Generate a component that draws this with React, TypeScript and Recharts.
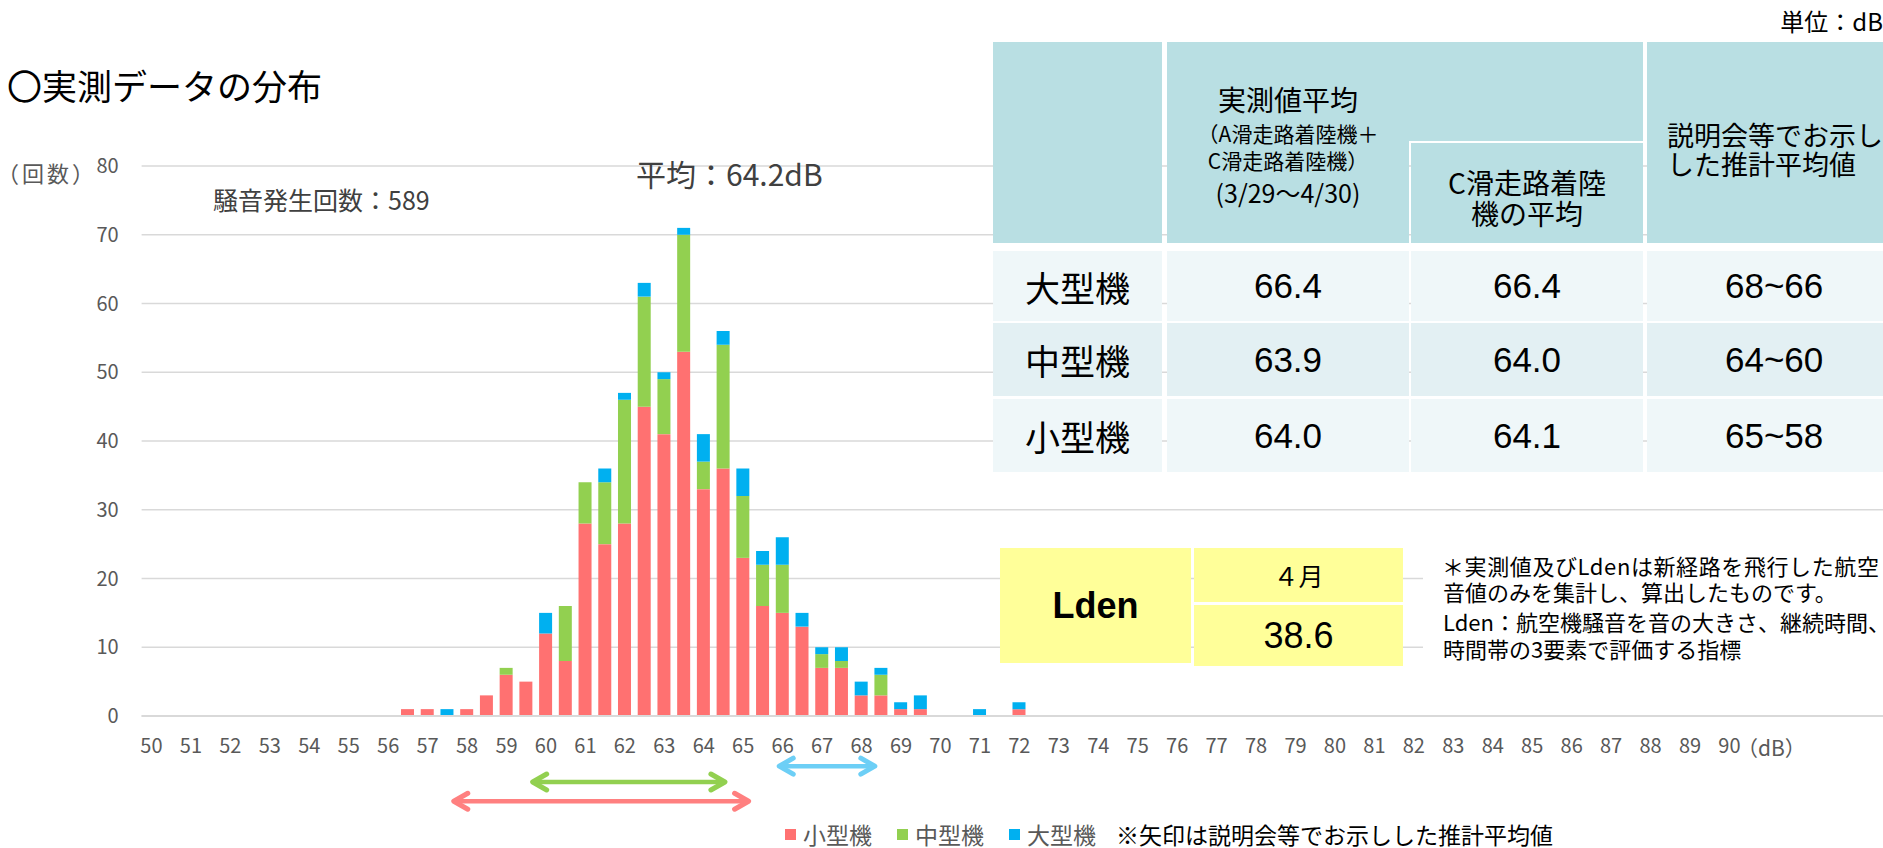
import React from 'react';
import { ComposedChart, Bar, XAxis, YAxis, CartesianGrid, Legend, ReferenceLine } from 'recharts';

// ---- data ----
const bins = [56.5, 57, 57.5, 58, 58.5, 59, 59.5, 60, 60.5, 61, 61.5, 62, 62.5, 63, 63.5, 64, 64.5, 65, 65.5, 66, 66.5, 67, 67.5, 68, 68.5, 69, 69.5, 70, 70.5, 71, 71.5, 72];
const smallCounts = [1, 1, 0, 1, 3, 6, 5, 12, 8, 28, 25, 28, 45, 41, 53, 33, 36, 23, 16, 15, 13, 7, 7, 3, 3, 1, 1, 0, 0, 0, 0, 1];
const mediumCounts = [0, 0, 0, 0, 0, 1, 0, 0, 8, 6, 9, 18, 16, 8, 17, 4, 18, 9, 6, 7, 0, 2, 1, 0, 3, 0, 0, 0, 0, 0, 0, 0];
const largeCounts = [0, 0, 1, 0, 0, 0, 0, 3, 0, 0, 2, 1, 2, 1, 1, 4, 2, 4, 2, 4, 2, 1, 2, 2, 1, 1, 2, 0, 0, 1, 0, 1];

const seriesNames = ['小型機', '中型機', '大型機'];
const seriesColors = ['#FF7171', '#92D050', '#00B0F0'];

const xTicks = [50, 51, 52, 53, 54, 55, 56, 57, 58, 59, 60, 61, 62, 63, 64, 65, 66, 67, 68, 69, 70, 71, 72, 73, 74, 75, 76, 77, 78, 79, 80, 81, 82, 83, 84, 85, 86, 87, 88, 89, 90];
const yTicks = [0, 10, 20, 30, 40, 50, 60, 70, 80];

// estimated-average arrows (dB range), drawn below the axis
const arrowNames = ['大型機', '中型機', '小型機'];
const arrowFrom = [65.85, 59.6, 57.6];
const arrowTo = [68.4, 64.6, 65.2];
const arrowLevel = [-7.3, -9.6, -12.4];
const arrowColors = ['#6DCFF6', '#92D050', '#FF8080'];

// table
const tableRows = ['大型機', '中型機', '小型機'];
const measuredAvg = ['66.4', '63.9', '64.0'];
const runwayCAvg = ['66.4', '64.0', '64.1'];
const estimatedRange = ['68~66', '64~60', '65~58'];

const ldenMonth = '４月';
const ldenValue = '38.6';

const totalCount = 589;
const meanValue = '64.2';

const data = bins.map((b, i) => ({
  db: b,
  small: smallCounts[i],
  medium: mediumCounts[i],
  large: largeCounts[i],
}));

const CJK = '"Noto Sans CJK JP", "Noto Sans", sans-serif';
const ARIAL = '"Liberation Sans", Arial, sans-serif';
const TEAL = '#b9dfe3';
const ROW_BG = ['#eff7f9', '#e3f0f3', '#eff7f9'];

const Arrow = (p: any) => {
  const { x1, y1, x2, y2, color } = p;
  const h = 14;
  const w = 8;
  const a = x1 + 2.5;
  const b = x2 - 2.5;
  return (
    <g>
      <line x1={a + 2} y1={y1} x2={b - 2} y2={y2} stroke={color} strokeWidth={4.5} />
      <polyline points={`${a + h},${y1 - w} ${a},${y1} ${a + h},${y1 + w}`} fill="none" stroke={color} strokeWidth={5} strokeLinecap="round" strokeLinejoin="round" />
      <polyline points={`${b - h},${y2 - w} ${b},${y2} ${b - h},${y2 + w}`} fill="none" stroke={color} strokeWidth={5} strokeLinecap="round" strokeLinejoin="round" />
    </g>
  );
};

const Box = (p: { left: number; top: number; width: number; height: number; bg: string; children?: any; style?: any }) => (
  <div
    style={{
      position: 'absolute',
      left: p.left,
      top: p.top,
      width: p.width,
      height: p.height,
      background: p.bg,
      display: 'flex',
      alignItems: 'center',
      justifyContent: 'center',
      ...p.style,
    }}
  >
    {p.children}
  </div>
);

const Line = (p: { x: number; cy: number; size: number; text: string; align?: string; color?: string; font?: string; weight?: number; w?: number; lh?: number; ls?: number }) => {
  const lh = p.lh || Math.round(p.size * 1.15);
  const align = p.align || 'left';
  const w = p.w || 600;
  let left = p.x;
  if (align === 'center') left = p.x - w / 2;
  if (align === 'right') left = p.x - w;
  return (
    <div
      style={{
        position: 'absolute',
        left,
        top: p.cy - lh / 2,
        width: w,
        height: lh,
        lineHeight: `${lh}px`,
        fontSize: p.size,
        textAlign: align as any,
        color: p.color || '#000',
        fontFamily: p.font || CJK,
        fontWeight: p.weight || 400,
        letterSpacing: p.ls || 0,
        whiteSpace: 'nowrap',
      }}
    >
      {p.text}
    </div>
  );
};

const LegendContent = (props: any) => {
  const payload = [...(props.payload || [])].sort(
    (a: any, b: any) => seriesNames.indexOf(a.value) - seriesNames.indexOf(b.value)
  );
  return (
    <div style={{ display: 'flex', alignItems: 'center', height: 22, lineHeight: '22px', fontFamily: CJK, fontSize: 23, whiteSpace: 'nowrap' }}>
      {payload.map((e: any) => (
        <span key={e.value} style={{ display: 'flex', alignItems: 'center', marginRight: 25, color: '#595959' }}>
          <span style={{ display: 'inline-block', width: 11, height: 11, background: e.color, marginRight: 7 }} />
          {e.value}
        </span>
      ))}
      <span style={{ color: '#000', marginLeft: -5 }}>※矢印は説明会等でお示しした推計平均値</span>
    </div>
  );
};

export default function App() {
  const colLeft = [993, 1167, 1411, 1647];
  const colWidth = [169, 242, 232, 254];
  const rowTop = [251, 323, 399];
  const rowH = [70, 73, 73];
  const valueCols = [measuredAvg, runwayCAvg, estimatedRange];

  return (
    <div style={{ position: 'absolute', left: 0, top: 0, width: 1883, height: 848, overflow: 'hidden', background: '#fff', fontFamily: CJK }}>
      <div style={{ position: 'absolute', left: 0, top: 0 }}>
        <ComposedChart width={1900} height={848} data={data} margin={{ top: 166, right: 2.9, left: 81.6, bottom: 102 }}>
          <CartesianGrid vertical={false} stroke="#d9d9d9" strokeWidth={1.5} />
          <XAxis
            type="number"
            dataKey="db"
            domain={[49.75, 94.25]}
            ticks={xTicks}
            interval={0}
            allowDataOverflow
            height={30}
            tickSize={0}
            tickMargin={23}
            tickLine={false}
            axisLine={{ stroke: '#d9d9d9', strokeWidth: 2 }}
            tick={{ fill: '#595959', fontSize: 20, fontFamily: CJK }}
          />
          <YAxis
            width={60}
            domain={[0, 80]}
            ticks={yTicks}
            interval={0}
            tickSize={0}
            tickMargin={23}
            tickLine={false}
            axisLine={false}
            tick={{ fill: '#595959', fontSize: 20, fontFamily: CJK }}
          />
          <Bar dataKey="small" name={seriesNames[0]} stackId="a" fill={seriesColors[0]} barSize={13} isAnimationActive={false} />
          <Bar dataKey="medium" name={seriesNames[1]} stackId="a" fill={seriesColors[1]} barSize={13} isAnimationActive={false} />
          <Bar dataKey="large" name={seriesNames[2]} stackId="a" fill={seriesColors[2]} barSize={13} isAnimationActive={false} />
          {arrowNames.map((n, i) => (
            <ReferenceLine
              key={n}
              segment={[
                { x: arrowFrom[i], y: arrowLevel[i] },
                { x: arrowTo[i], y: arrowLevel[i] },
              ]}
              ifOverflow="visible"
              shape={(p: any) => <Arrow {...p} color={arrowColors[i]} />}
            />
          ))}
          <Legend
            layout="horizontal"
            verticalAlign="middle"
            align="center"
            wrapperStyle={{ left: 785, top: 823, width: 820, height: 22 }}
            content={LegendContent}
          />
        </ComposedChart>
      </div>

      {/* chart texts */}
      <Line x={7} cy={85} size={35} text="〇実測データの分布" />
      <Line x={-3} cy={172} size={22} ls={3} text="（回数）" color="#595959" />
      <Line x={213} cy={199} size={25} text={`騒音発生回数：${totalCount}`} color="#404040" />
      <Line x={636} cy={173} size={30} text={`平均：${meanValue}dB`} color="#404040" />
      <Line x={1737} cy={747} size={21} text="（dB）" color="#595959" />

      {/* table */}
      <Line x={1883} cy={21} size={24} text="単位：dB" align="right" />
      <Box left={993} top={42} width={169} height={201} bg={TEAL} />
      <Box left={1167} top={42} width={476} height={99} bg={TEAL} />
      <Box left={1167} top={141} width={242} height={102} bg={TEAL} />
      <Box left={1411} top={143} width={232} height={100} bg={TEAL} />
      <Box left={1647} top={42} width={254} height={201} bg={TEAL} />
      <Line x={1288} cy={99} size={28} text="実測値平均" align="center" w={240} lh={32} />
      <Line x={1288} cy={133} size={21} text="（A滑走路着陸機＋" align="center" w={240} lh={26} />
      <Line x={1288} cy={160} size={21} text="C滑走路着陸機）" align="center" w={240} lh={26} />
      <Line x={1288} cy={192} size={25} text="(3/29～4/30)" align="center" w={240} lh={30} />
      <Line x={1527} cy={182} size={28} text="C滑走路着陸" align="center" w={232} lh={30} />
      <Line x={1527} cy={213} size={28} text="機の平均" align="center" w={232} lh={30} />
      <Line x={1667} cy={135} size={27} text="説明会等でお示し" lh={28} />
      <Line x={1667} cy={164} size={27} text="した推計平均値" lh={28} />

      {tableRows.map((r, i) => (
        <React.Fragment key={r}>
          <Box left={colLeft[0]} top={rowTop[i]} width={colWidth[0]} height={rowH[i]} bg={ROW_BG[i]}>
            <span style={{ fontSize: 35, fontFamily: CJK, color: '#000' }}>{r}</span>
          </Box>
          {valueCols.map((col, j) => (
            <Box key={j} left={colLeft[j + 1]} top={rowTop[i]} width={colWidth[j + 1]} height={rowH[i]} bg={ROW_BG[i]} style={j === 2 ? { justifyContent: 'flex-start', paddingLeft: 78, boxSizing: 'border-box' } : undefined}>
              <span style={{ fontSize: 35, fontFamily: ARIAL, color: '#000' }}>{col[i]}</span>
            </Box>
          ))}
        </React.Fragment>
      ))}

      {/* Lden box */}
      <Box left={1000} top={548} width={191} height={115} bg="#FFFF99">
        <span style={{ fontSize: 36, fontFamily: ARIAL, fontWeight: 700, color: '#000' }}>Lden</span>
      </Box>
      <Box left={1194} top={548} width={209} height={54} bg="#FFFF99">
        <span style={{ fontSize: 25, fontFamily: CJK, color: '#000' }}>{ldenMonth}</span>
      </Box>
      <Box left={1194} top={605} width={209} height={61} bg="#FFFF99">
        <span style={{ fontSize: 36, fontFamily: ARIAL, color: '#000' }}>{ldenValue}</span>
      </Box>

      {/* note */}
      <div style={{ position: 'absolute', left: 1423, top: 540, width: 470, height: 130, background: '#fff' }} />
      <Line x={1442} cy={565} size={22} ls={0.6} text="＊実測値及びLdenは新経路を飛行した航空" lh={25} />
      <Line x={1443} cy={591} size={22} text="音値のみを集計し、算出したものです。" lh={25} />
      <Line x={1443} cy={621} size={22} text="Lden：航空機騒音を音の大きさ、継続時間、" lh={25} />
      <Line x={1443} cy={648} size={22} text="時間帯の3要素で評価する指標" lh={25} />
    </div>
  );
}
